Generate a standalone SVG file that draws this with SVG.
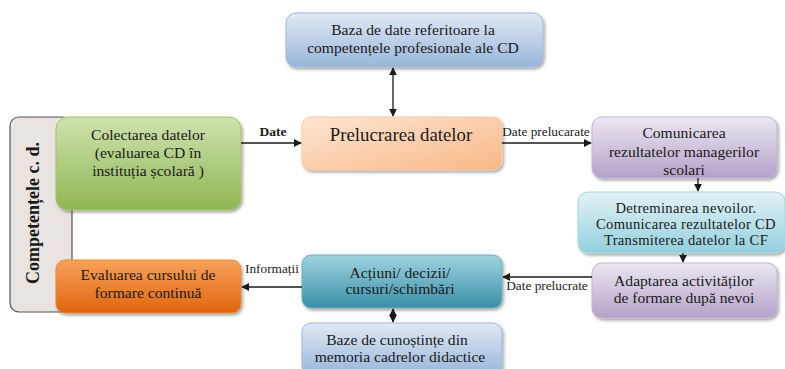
<svg xmlns="http://www.w3.org/2000/svg" width="785" height="369" viewBox="0 0 785 369">
<defs>
<style>
.t{font-size:15.6px}
.tc{font-size:14.6px;letter-spacing:0.3px}
.lbl{font-size:13.3px}
.con{stroke:#1a1a1a;stroke-width:1.3;fill:none}
</style>
<filter id="sh" x="-10%" y="-10%" width="125%" height="130%">
<feDropShadow dx="1.5" dy="2" stdDeviation="1.5" flood-color="#000" flood-opacity="0.35"/>
</filter>
<marker id="ah" viewBox="0 0 10 10" refX="9" refY="5" markerWidth="8" markerHeight="8" orient="auto-start-reverse" markerUnits="userSpaceOnUse">
<path d="M0,0 L10,5 L0,10 z" fill="#1a1a1a"/>
</marker>
<linearGradient id="gGreen" x1="0" y1="0" x2="0" y2="1"><stop offset="0" stop-color="#cfe2ae"/><stop offset="1" stop-color="#8fb653"/></linearGradient>
<linearGradient id="gOrange" x1="0" y1="0" x2="0" y2="1"><stop offset="0" stop-color="#f8a25b"/><stop offset="1" stop-color="#e0650d"/></linearGradient>
<linearGradient id="gBlue" x1="0" y1="0" x2="0" y2="1"><stop offset="0" stop-color="#e1e9f4"/><stop offset="1" stop-color="#98b6da"/></linearGradient>
<linearGradient id="gPeach" x1="0" y1="0" x2="1" y2="1"><stop offset="0" stop-color="#fde5d3"/><stop offset="1" stop-color="#f9b886"/></linearGradient>
<linearGradient id="gPurple" x1="0" y1="0" x2="0" y2="1"><stop offset="0" stop-color="#ece7f1"/><stop offset="1" stop-color="#b3a2c9"/></linearGradient>
<linearGradient id="gCyan" x1="0" y1="0" x2="0" y2="1"><stop offset="0" stop-color="#e3f2f6"/><stop offset="1" stop-color="#93cfde"/></linearGradient>
<linearGradient id="gTeal" x1="0" y1="0" x2="0" y2="1"><stop offset="0" stop-color="#9fd4e2"/><stop offset="1" stop-color="#3a8ea6"/></linearGradient>
</defs>
<rect width="785" height="369" fill="#fff"/>
<g font-family="Liberation Serif, DejaVu Serif, serif" fill="#1a1a1a" text-anchor="middle">

<g id="competente">
<rect x="10" y="117" width="62" height="195" rx="9" fill="#e9e4df" stroke="#555" stroke-width="1.2"/>
<text transform="translate(39,213) rotate(-90)" font-size="18" font-weight="bold">Competențele c. d.</text>
</g>

<g id="colectarea">
<rect x="56" y="117" width="185" height="93" rx="12" fill="url(#gGreen)" stroke="#a5c26e" filter="url(#sh)"/>
<text class="t" x="148" y="140">Colectarea datelor</text>
<text class="t" x="148" y="158">(evaluarea CD în</text>
<text class="t" x="148" y="176">instituția școlară )</text>
</g>

<g id="evaluarea">
<rect x="56" y="260" width="185" height="53" rx="9" fill="url(#gOrange)" stroke="#e8893a" filter="url(#sh)"/>
<text class="t" x="148" y="280">Evaluarea cursului de</text>
<text class="t" x="148" y="298">formare continuă</text>
</g>

<g id="baza">
<rect x="286" y="13" width="257" height="54" rx="10" fill="url(#gBlue)" stroke="#9fb9d9" filter="url(#sh)"/>
<text class="t" x="413" y="35">Baza de date referitoare la</text>
<text class="t" x="413" y="53">competențele profesionale ale  CD</text>
</g>

<g id="prelucrarea">
<rect x="302" y="117" width="200" height="53" rx="9" fill="url(#gPeach)" stroke="#f6c9a5" filter="url(#sh)"/>
<text x="401" y="141" font-size="18.8">Prelucrarea  datelor</text>
</g>

<g id="comunicarea">
<rect x="592" y="117" width="185" height="61" rx="10" fill="url(#gPurple)" stroke="#c0b3d3" filter="url(#sh)"/>
<text class="t" x="684" y="138">Comunicarea</text>
<text class="t" x="684" y="157">rezultatelor managerilor</text>
<text class="t" x="684" y="175">scolari</text>
</g>

<g id="determinarea">
<rect x="578" y="192" width="207" height="61" rx="10" fill="url(#gCyan)" stroke="#a6d6e3" filter="url(#sh)"/>
<text class="tc" x="686" y="213">Detreminarea nevoilor.</text>
<text class="tc" x="686" y="229">Comunicarea rezultatelor CD</text>
<text class="tc" x="686" y="245">Transmiterea datelor la CF</text>
</g>

<g id="adaptarea">
<rect x="592" y="263" width="185" height="55" rx="10" fill="url(#gPurple)" stroke="#c0b3d3" filter="url(#sh)"/>
<text class="t" x="684" y="286">Adaptarea activităților</text>
<text class="t" x="684" y="303">de formare după nevoi</text>
</g>

<g id="actiuni">
<rect x="302" y="255" width="200" height="53" rx="9" fill="url(#gTeal)" stroke="#6aaec2" filter="url(#sh)"/>
<text class="t" x="400" y="278">Acțiuni/ decizii/</text>
<text class="t" x="400" y="294">cursuri/schimbări</text>
</g>

<g id="baze">
<rect x="302" y="323" width="200" height="52" rx="9" fill="url(#gBlue)" stroke="#9fb9d9" filter="url(#sh)"/>
<text class="t" x="397" y="345">Baze de cunoștințe din</text>
<text class="t" x="400" y="362">memoria cadrelor didactice</text>
</g>

<g id="connectors">
<line class="con" x1="241" y1="143" x2="301" y2="143" marker-end="url(#ah)"/>
<text x="273" y="136" font-size="13.5" font-weight="bold">Date</text>
<line class="con" x1="393" y1="68" x2="393" y2="116" marker-start="url(#ah)" marker-end="url(#ah)"/>
<line class="con" x1="502" y1="143" x2="591" y2="143" marker-end="url(#ah)"/>
<text class="lbl" x="546" y="136">Date prelucarate</text>
<line class="con" x1="698" y1="178" x2="698" y2="191" marker-end="url(#ah)"/>
<line class="con" x1="683" y1="253" x2="683" y2="262" marker-end="url(#ah)"/>
<line class="con" x1="592" y1="277" x2="503" y2="277" marker-end="url(#ah)"/>
<text class="lbl" x="547" y="290">Date prelucrate</text>
<line class="con" x1="302" y1="287" x2="242" y2="287" marker-end="url(#ah)"/>
<text class="lbl" x="272" y="273">Informații</text>
<line class="con" x1="393" y1="309" x2="393" y2="322" marker-start="url(#ah)" marker-end="url(#ah)"/>
</g>
</g>
</svg>
